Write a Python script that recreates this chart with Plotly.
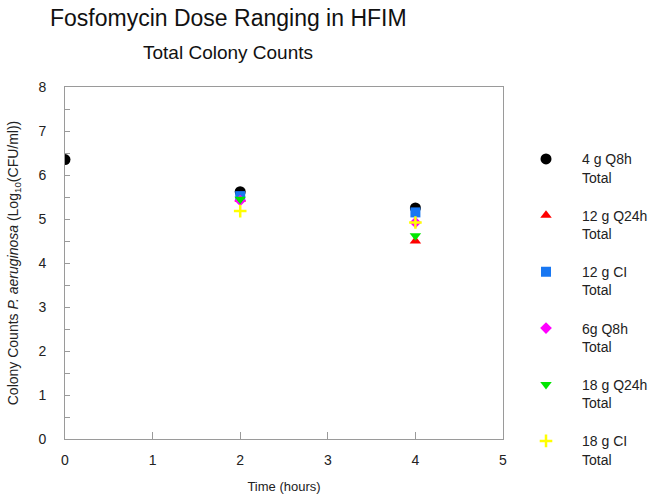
import plotly.graph_objects as go

# Data
series_names = ["4 g Q8h<br>Total", "12 g Q24h<br>Total", "12 g CI<br>Total",
                "6g Q8h<br>Total", "18 g Q24h<br>Total", "18 g CI<br>Total"]
x_4g_q8h = [0, 2, 4]
y_4g_q8h = [6.35, 5.62, 5.25]
x_other = [2, 4]
y_12g_q24h = [5.45, 4.50]
y_12g_ci = [5.52, 5.15]
y_6g_q8h = [5.42, 4.92]
y_18g_q24h = [5.45, 4.62]
y_18g_ci = [5.18, 4.92]

x_ticks = [0, 1, 2, 3, 4, 5]
y_ticks = [0, 1, 2, 3, 4, 5, 6, 7, 8]

styles = [
    dict(symbol="circle", color="#000000", size=11, lw=0),
    dict(symbol="triangle-up", color="#ff0000", size=10, lw=0),
    dict(symbol="square", color="#1877f2", size=10, lw=0),
    dict(symbol="diamond", color="#ff00ff", size=9, lw=0),
    dict(symbol="triangle-down", color="#00e600", size=10, lw=0),
    dict(symbol="cross-thin", color="#ffff00", size=9, lw=2.5),
]

xs = [x_4g_q8h, x_other, x_other, x_other, x_other, x_other]
ys = [y_4g_q8h, y_12g_q24h, y_12g_ci, y_6g_q8h, y_18g_q24h, y_18g_ci]

fig = go.Figure()
for i, (name, x, y, st) in enumerate(zip(series_names, xs, ys, styles)):
    fig.add_trace(go.Scatter(
        x=x, y=y, mode="markers", name=name, legendgroup=f"g{i}",
        marker=dict(symbol=st["symbol"], color=st["color"], size=st["size"],
                    line=dict(width=st["lw"], color=st["color"])),
    ))

font_family = "Liberation Sans, Arial, sans-serif"
pw, ph = 650 - 65 - 147, 498 - 87 - 59
fig.update_layout(
    width=650, height=498,
    margin=dict(l=65, r=147, t=87, b=59, autoexpand=False),
    paper_bgcolor="white", plot_bgcolor="white",
    font=dict(family=font_family, color="#222", size=14),
    showlegend=True,
    legend=dict(x=1.016, y=0.84, xanchor="left", yanchor="top",
                valign="top", tracegroupgap=17, itemwidth=62,
                font=dict(size=14, color="#222"), bgcolor="rgba(0,0,0,0)"),
    annotations=[
        dict(text="Fosfomycin Dose Ranging in HFIM", xref="paper", yref="paper",
             x=(228 - 65) / pw, y=(439 - 18) / ph, xanchor="center", yanchor="middle",
             showarrow=False, font=dict(size=23, color="#111")),
        dict(text="Total Colony Counts", xref="paper", yref="paper",
             x=(228 - 65) / pw, y=(439 - 52) / ph, xanchor="center", yanchor="middle",
             showarrow=False, font=dict(size=19, color="#111")),
    ],
)

fig.update_xaxes(
    range=[0, 5], tickvals=x_ticks, ticktext=[str(v) for v in x_ticks],
    showline=True, linecolor="#9a9a9a", linewidth=1, mirror=True,
    ticks="inside", ticklen=7, tickcolor="#9a9a9a", tickwidth=1,
    showgrid=False, zeroline=False, ticklabelstandoff=8, automargin=False,
    title=dict(text="Time (hours)", font=dict(size=13), standoff=15),
)
fig.update_yaxes(
    range=[0, 8], tickvals=y_ticks, ticktext=[str(v) for v in y_ticks],
    showline=True, linecolor="#9a9a9a", linewidth=1, mirror=True,
    ticks="inside", ticklen=5, tickcolor="#9a9a9a", tickwidth=1,
    minor=dict(ticks="inside", dtick=0.5, ticklen=5, tickcolor="#9a9a9a"),
    showgrid=False, zeroline=False, ticklabelstandoff=15, automargin=False,
    title=dict(text="Colony Counts <i>P. aeruginosa</i> (Log<sub>10</sub>(CFU/ml))",
               font=dict(size=14), standoff=16),
)

fig.write_html("out.html", config={"displayModeBar": False},
               post_script="document.body.style.margin='0';")
